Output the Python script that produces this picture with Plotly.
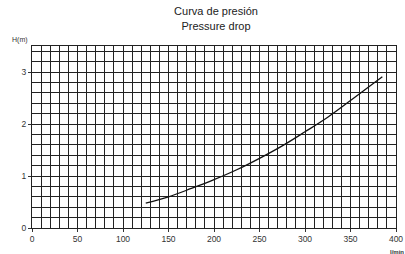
import plotly.graph_objects as go

flow_lpm = [125, 150, 175, 200, 225, 250, 275, 300, 325, 350, 375, 385]
head_m = [0.48, 0.60, 0.76, 0.93, 1.12, 1.34, 1.58, 1.85, 2.13, 2.45, 2.78, 2.91]
x_ticks = [0, 50, 100, 150, 200, 250, 300, 350, 400]
y_ticks = [0, 1, 2, 3]
title_lines = ["Curva de presión", "Pressure drop"]

grid_col = "#222222"
font_fam = "Liberation Sans, Arial, sans-serif"

fig = go.Figure()
fig.add_trace(go.Scatter(x=flow_lpm, y=head_m, mode="lines",
                         line=dict(color="#111111", width=1.3, shape="spline"),
                         showlegend=False, hoverinfo="skip"))

fig.update_layout(
    width=405, height=254,
    margin=dict(l=32, r=9, t=46, b=26),
    paper_bgcolor="white", plot_bgcolor="white",
    font=dict(family=font_fam, size=9, color="#333333"),
    title=dict(text="<br>".join(title_lines), x=216 / 405,
               xanchor="center", y=0.94, yanchor="top",
               font=dict(size=11, color="#222222", family=font_fam)),
    xaxis=dict(range=[0, 400], tickvals=x_ticks, showgrid=True, gridcolor=grid_col, gridwidth=1,
               minor=dict(dtick=10, showgrid=True, gridcolor=grid_col, gridwidth=1),
               showline=True, linecolor=grid_col, linewidth=1, mirror=True,
               ticks="outside", ticklen=3, tickcolor="#333", zeroline=False,
               tickfont=dict(size=8.5), automargin=False),
    yaxis=dict(range=[0, 3.5], tickvals=y_ticks, showgrid=True, gridcolor=grid_col, gridwidth=1,
               minor=dict(dtick=0.2, showgrid=True, gridcolor=grid_col, gridwidth=1),
               showline=True, linecolor=grid_col, linewidth=1, mirror=True,
               ticks="outside", ticklen=3, tickcolor="#333", zeroline=False,
               tickfont=dict(size=8.5), automargin=False),
    annotations=[
        dict(text="H(m)", xref="paper", yref="paper", x=-0.005, y=1.0, xanchor="right",
             yanchor="bottom", showarrow=False, font=dict(size=7, color="#333")),
        dict(text="<b>l/min</b>", xref="paper", yref="paper", x=1.0, y=-0.105, xanchor="left",
             xshift=-8, yanchor="top", showarrow=False, font=dict(size=6, color="#333")),
    ],
)

fig.write_html("out.html", config={"displayModeBar": False},
               post_script="document.body.style.margin='0';document.body.style.overflow='hidden';")
